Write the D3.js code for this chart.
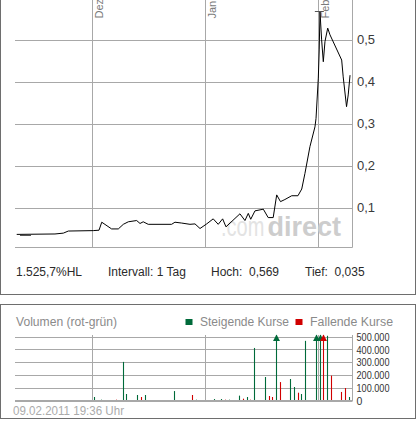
<!DOCTYPE html>
<html><head><meta charset="utf-8">
<script src="https://cdn.jsdelivr.net/npm/d3@7"></script>
<style>html,body{margin:0;padding:0;background:#fff;}svg{display:block;}</style>
</head><body><svg id="c" width="417" height="425"></svg>
<script>
// ---- data ----
const priceDates = ["2010-11-10 06","2010-11-20 18","2010-11-23 01","2010-11-24 10","2010-12-01 06","2010-12-02 20","2010-12-03 14","2010-12-06 07","2010-12-08 03","2010-12-09 12","2010-12-10 21","2010-12-13 04","2010-12-14 02","2010-12-14 23","2010-12-16 08","2010-12-22 18","2010-12-23 16","2010-12-25 12","2010-12-27 19","2010-12-29 04","2010-12-30 13","2011-01-01 09","2011-01-03 04","2011-01-04 13","2011-01-05 18","2011-01-06 16","2011-01-10 12","2011-01-11 21","2011-01-12 19","2011-01-13 11","2011-01-14 15","2011-01-16 22","2011-01-18 06","2011-01-19 15","2011-01-20 14","2011-01-21 15","2011-01-22 20","2011-01-24 17","2011-01-26 10","2011-01-27 11","2011-01-28 08","2011-01-29 17","2011-01-31 02","2011-01-31 09","2011-02-01 00","2011-02-01 06","2011-02-01 11","2011-02-01 22","2011-02-02 09","2011-02-02 20","2011-02-03 14","2011-02-04 05","2011-02-07 10","2011-02-07 20","2011-02-08 18","2011-02-09 05","2011-02-09 17"];
const priceValues = [0.038,0.039,0.041,0.046,0.047,0.048,0.067,0.051,0.051,0.062,0.068,0.071,0.064,0.068,0.062,0.062,0.067,0.065,0.062,0.063,0.052,0.063,0.075,0.062,0.075,0.056,0.087,0.071,0.088,0.074,0.094,0.098,0.078,0.078,0.132,0.116,0.121,0.130,0.130,0.146,0.183,0.247,0.294,0.314,0.410,0.477,0.568,0.501,0.449,0.497,0.529,0.513,0.453,0.413,0.342,0.370,0.417];
const hochValue = 0.569, hochDate = "2011-02-01 07";
const tiefValue = 0.035, tiefDate = "2010-11-12 16";

const volDates = ["2010-12-01","2010-12-03","2010-12-07","2010-12-09","2010-12-10","2010-12-13","2010-12-14","2010-12-15","2010-12-23","2010-12-28","2010-12-29","2011-01-03","2011-01-05","2011-01-06","2011-01-07","2011-01-10","2011-01-11","2011-01-12","2011-01-13","2011-01-14","2011-01-17","2011-01-18","2011-01-19","2011-01-20","2011-01-21","2011-01-24","2011-01-25","2011-01-26","2011-01-27","2011-01-28","2011-01-31","2011-02-01","2011-02-02","2011-02-03","2011-02-04","2011-02-07","2011-02-08","2011-02-09"];
const volValues = [29000,8000,8000,306000,53000,45000,29000,45000,76000,45000,8000,13000,13000,8000,8000,40000,16000,29000,8000,416000,187000,37000,29000,650000,147000,171000,108000,63000,53000,472000,650000,650000,650000,512000,198000,69000,100000,29000];
const volRising = [1,1,0,1,1,1,0,1,1,0,1,1,1,0,1,1,0,1,0,1,1,0,0,1,0,1,1,0,1,1,1,1,0,1,0,0,0,1];

const priceTicks = [0.1,0.2,0.3,0.4,0.5];
const priceTickLabels = ["0,1","0,2","0,3","0,4","0,5"];
const volTicks = [0,100000,200000,300000,400000,500000];
const volTickLabels = ["0","100.000","200.000","300.000","400.000","500.000"];
const monthStarts = ["2010-12-01","2011-01-01","2011-02-01"];
const monthLabels = ["Dez","Jan","Feb"];
const statLabels = ["1.525,7%HL","Intervall: 1 Tag","Hoch:  0,569","Tief:  0,035"];
const volTitle = "Volumen (rot-grün)";
const legendLabels = ["Steigende Kurse","Fallende Kurse"];
const stampText = "09.02.2011 19:36 Uhr";

// ---- setup ----
const FONT = "'Liberation Sans', Arial, sans-serif";
const GREEN = "#006a3a", RED = "#d00000", GRID = "#a8a8a8";
const svg = d3.select("#c");
const pH = d3.timeParse("%Y-%m-%d %H");
const pD = d3.timeParse("%Y-%m-%d");
const px = v => Math.floor(v) + 0.5;

const x = d3.scaleTime().domain([new Date(2010,10,10), new Date(2011,1,10)]).range([15.8, 351.1]);
const L = 15, R = 352.5;
const y = d3.scaleLinear().domain([0.008, 0.5]).range([247, 40.3]);
const yV = d3.scaleLinear().domain([0, 500000]).range([400.7, 337.3]);
const vMax = yV.invert(335);

// panels
svg.append("rect").attr("x",0.5).attr("y",-10).attr("width",415).attr("height",304.5)
  .attr("fill","#fff").attr("stroke","#6e6e6e");
svg.append("rect").attr("x",0.5).attr("y",304.5).attr("width",415).attr("height",114)
  .attr("fill","#fff").attr("stroke","#6e6e6e");

// ---- price panel ----
const g = svg.append("g");
g.selectAll(".hg").data(priceTicks).enter().append("line")
  .attr("x1",L).attr("x2",R).attr("y1",d=>px(y(d))).attr("y2",d=>px(y(d)))
  .attr("stroke",GRID);
g.append("line").attr("x1",L).attr("x2",R).attr("y1",247.5).attr("y2",247.5).attr("stroke",GRID);
g.selectAll(".vg").data(monthStarts).enter().append("line")
  .attr("x1",d=>px(x(pD(d)))).attr("x2",d=>px(x(pD(d)))).attr("y1",-2).attr("y2",247.5)
  .attr("stroke",GRID);
g.append("line").attr("x1",R).attr("x2",R).attr("y1",-2).attr("y2",247.5).attr("stroke",GRID);

g.selectAll(".ml").data(monthStarts).enter().append("text")
  .attr("transform",(d)=>`translate(${x(pD(d))+10.5},18.5) rotate(-90)`)
  .attr("font-family",FONT).attr("font-size",11).attr("fill","#7a7a7a")
  .text((d,i)=>monthLabels[i]);

g.selectAll(".yl").data(priceTicks).enter().append("text")
  .attr("x",357).attr("y",d=>y(d)+3.4)
  .attr("font-family",FONT).attr("font-size",13).attr("fill","#3a3a3a")
  .text((d,i)=>priceTickLabels[i]);

// watermark
g.append("text").attr("transform","translate(221,235.5) scale(0.74,1)")
  .attr("font-family",FONT).attr("font-size",27).attr("fill","#e3e3e3").text(".com");
g.append("text").attr("transform","translate(267.5,235.5) scale(1.0,1)")
  .attr("font-family",FONT).attr("font-size",27).attr("font-weight","bold").attr("fill","#cdcdcd").text("direct");

// price line
const line = d3.line().x((d,i)=>x(pH(priceDates[i]))).y(d=>y(d));
g.append("path").datum(priceValues).attr("d",line).attr("fill","none")
  .attr("stroke","#000").attr("stroke-width",1);
// high / low markers
g.append("line").attr("x1",x(pH(hochDate))-4.5).attr("x2",x(pH(hochDate))+4.5)
  .attr("y1",px(y(hochValue))).attr("y2",px(y(hochValue))).attr("stroke","#555");
g.append("line").attr("x1",x(pH(tiefDate))-5.5).attr("x2",x(pH(tiefDate))+5.5)
  .attr("y1",px(y(tiefValue))).attr("y2",px(y(tiefValue))).attr("stroke","#555");

// stats
const statX = [16,108,211,305];
g.selectAll(".st").data(statLabels).enter().append("text")
  .attr("x",(d,i)=>statX[i]).attr("y",276)
  .attr("font-family",FONT).attr("font-size",12).attr("fill","#2a2a2a")
  .attr("xml:space","preserve").style("white-space","pre")
  .text(d=>d);

// ---- volume panel ----
const v = svg.append("g");
v.append("text").attr("x",16).attr("y",326).attr("font-family",FONT).attr("font-size",12.5)
  .attr("fill","#8a8a8a").attr("textLength",101).attr("lengthAdjust","spacingAndGlyphs").text(volTitle);
v.append("rect").attr("x",185.5).attr("y",319).attr("width",7).attr("height",6).attr("fill",GREEN);
v.append("text").attr("x",200).attr("y",326).attr("font-family",FONT).attr("font-size",12.5)
  .attr("fill","#8a8a8a").attr("textLength",89).attr("lengthAdjust","spacingAndGlyphs").text(legendLabels[0]);
v.append("rect").attr("x",295.5).attr("y",319).attr("width",7).attr("height",6).attr("fill",RED);
v.append("text").attr("x",310).attr("y",326).attr("font-family",FONT).attr("font-size",12.5)
  .attr("fill","#8a8a8a").attr("textLength",83).attr("lengthAdjust","spacingAndGlyphs").text(legendLabels[1]);

v.selectAll(".vhg").data(volTicks.filter(d=>d>0)).enter().append("line")
  .attr("x1",L).attr("x2",R).attr("y1",d=>px(yV(d))).attr("y2",d=>px(yV(d))).attr("stroke",GRID);
v.selectAll(".vvg").data(monthStarts).enter().append("line")
  .attr("x1",d=>px(x(pD(d)))).attr("x2",d=>px(x(pD(d)))).attr("y1",335).attr("y2",401).attr("stroke",GRID);
v.append("line").attr("x1",R).attr("x2",R).attr("y1",335).attr("y2",401).attr("stroke",GRID);

v.selectAll(".vyl").data(volTicks).enter().append("text")
  .attr("x",356.5).attr("y",d=>yV(d)+3.8)
  .attr("font-family",FONT).attr("font-size",10.5).attr("fill","#333")
  .each(function(d,i){
    const t = d3.select(this).text(volTickLabels[i]);
    if (volTickLabels[i].length > 1) t.attr("textLength",33).attr("lengthAdjust","spacingAndGlyphs");
  });

const cx = i => x(d3.timeHour.offset(pD(volDates[i]),12));
v.selectAll(".bar").data(volValues).enter().append("line")
  .attr("x1",(d,i)=>px(cx(i))).attr("x2",(d,i)=>px(cx(i)))
  .attr("y1",yV(0)).attr("y2",d=>yV(Math.min(d,vMax)))
  .attr("stroke",(d,i)=>volRising[i]?GREEN:RED).attr("stroke-width",1.1);
v.selectAll(".arr").data(volValues.map((d,i)=>[d,i]).filter(a=>a[0]>vMax)).enter().append("path")
  .attr("d",a=>{const c=px(cx(a[1]));return `M${c},334.5L${c-3.5},341L${c+3.5},341Z`;})
  .attr("fill",a=>volRising[a[1]]?GREEN:RED);

v.append("line").attr("x1",L).attr("x2",R).attr("y1",401).attr("y2",401).attr("stroke","#a8a8a8").attr("stroke-width",2);

v.append("text").attr("x",13).attr("y",414.5).attr("font-family",FONT).attr("font-size",12)
  .attr("fill","#ababab").attr("textLength",111).attr("lengthAdjust","spacingAndGlyphs").text(stampText);
</script></body></html>
